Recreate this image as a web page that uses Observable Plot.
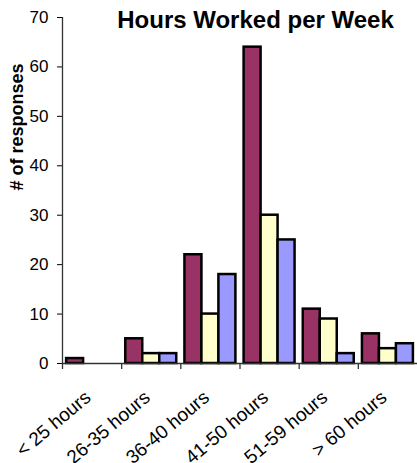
<!DOCTYPE html>
<html>
<head>
<meta charset="utf-8">
<script src="https://cdn.jsdelivr.net/npm/d3@7"></script>
<script src="https://cdn.jsdelivr.net/npm/@observablehq/plot@0.6"></script>
<style>
  html, body { margin: 0; padding: 0; background: #fff; }
  #chart svg { display: block; }
</style>
</head>
<body>
<div id="chart"></div>
<script>
// Labels
const title = "Hours Worked per Week";
const yLabel = "# of responses";

// Categories and the three response series
const categories = ["< 25 hours", "26-35 hours", "36-40 hours", "41-50 hours", "51-59 hours", "> 60 hours"];
const seriesNames = ["Group 1", "Group 2", "Group 3"];
const group1 = [1, 5, 22, 64, 11, 6];
const group2 = [0, 2, 10, 30, 9, 3];
const group3 = [0, 2, 18, 25, 2, 4];
const yTicks = [0, 10, 20, 30, 40, 50, 60, 70];

const colors = ["#993366", "#FFFFCC", "#9999FF"];
const seriesValues = [group1, group2, group3];

// Long-format rows for the bar marks
const rows = seriesNames.flatMap((name, i) =>
  categories.map((category, j) => ({series: name, category, value: seriesValues[i][j]}))
);

// Layout
const width = 417, height = 463;
const marginLeft = 62, marginRight = 0, marginTop = 17, marginBottom = 100;
const band = (width - marginLeft - marginRight) / categories.length;
const groupPad = 4.1;
const barWidth = (band - 2 * groupPad) / seriesNames.length;

const axisColor = "#333";
const font = "'Liberation Sans', Arial, Helvetica, sans-serif";

// One bar mark per series, placed side by side within each category band
const bars = seriesNames.map((name, i) =>
  Plot.barY(rows.filter(d => d.series === name && d.value > 0), {
    x: "category",
    y: "value",
    fill: colors[i],
    stroke: "#000",
    strokeWidth: 2.5,
    insetLeft: groupPad + i * barWidth,
    insetRight: band - groupPad - (i + 1) * barWidth
  })
);

const chart = Plot.plot({
  width, height, marginLeft, marginRight, marginTop, marginBottom,
  style: {fontFamily: font, fontSize: "17px", color: "#000", background: "#fff"},
  x: {domain: categories, padding: 0, round: false, axis: null},
  y: {domain: [0, 70], ticks: yTicks, tickSize: 5, tickPadding: 9, label: null},
  marks: [
    ...bars,
    // category axis line and tick marks between categories
    Plot.ruleY([0], {stroke: axisColor, strokeWidth: 1.3}),
    Plot.ruleX(categories, {x: d => d, dx: -band / 2, y1: 0, y2: 0, insetBottom: -6, stroke: axisColor, strokeWidth: 1.3}),
    // value axis line
    Plot.ruleX([categories[0]], {x: d => d, dx: -band / 2, y1: 0, y2: 70, stroke: axisColor, strokeWidth: 1.3}),
    // slanted category labels, ending under each category's centre
    Plot.text(categories, {
      x: d => d, text: d => d, frameAnchor: "bottom", dy: 36,
      rotate: -40, textAnchor: "end", lineAnchor: "bottom", fontSize: 19
    }),
    // axis title
    Plot.text([yLabel], {
      text: d => d, frameAnchor: "left", dx: -45.5, rotate: -90,
      fontWeight: "bold", fontSize: 18
    }),
    // chart title
    Plot.text([title], {
      text: d => d, frameAnchor: "top", dx: 15.5, dy: 10.5, lineAnchor: "bottom",
      fontWeight: "bold", fontSize: 24
    })
  ]
});

document.getElementById("chart").append(chart);
</script>
</body>
</html>
